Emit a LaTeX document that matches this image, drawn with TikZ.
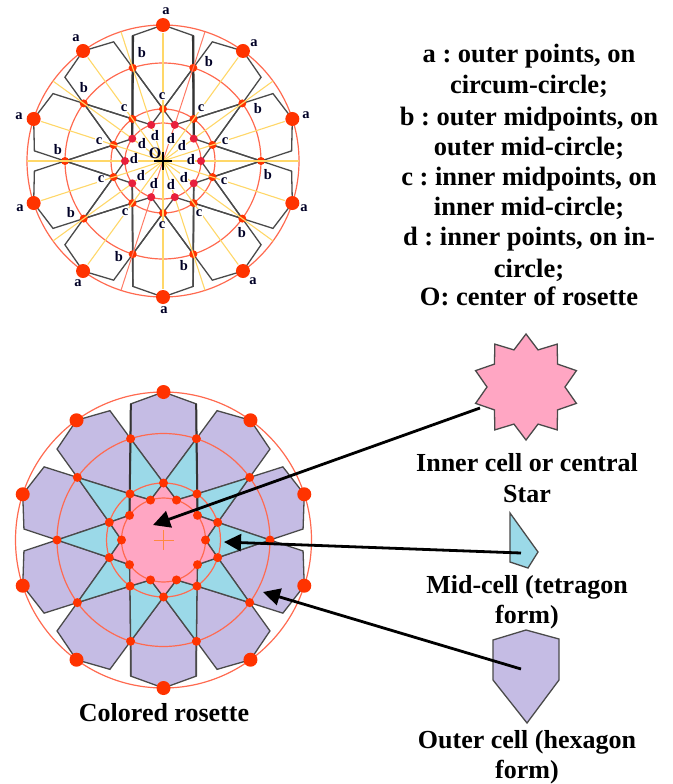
\documentclass[tikz,border=0pt]{standalone}
\usepackage{fontspec}
\setmainfont{Liberation Serif}
\usetikzlibrary{arrows.meta}
\frenchspacing
\definecolor{lav}{HTML}{C5BCE4}
\definecolor{skyc}{HTML}{9BD9E8}
\definecolor{pinkc}{HTML}{FFA6C3}
\definecolor{ringc}{HTML}{FF6A50}
\definecolor{dotc}{HTML}{FF3300}
\definecolor{ddot}{HTML}{E8203C}
\definecolor{yel}{HTML}{FFD768}
\definecolor{edgec}{HTML}{4A4A4A}
\tikzset{
  ring/.style={draw=ringc,line width=1.2pt},
  cellline/.style={draw=edgec,line width=1.3pt,line join=miter},
  ray/.style={draw=yel,line width=1.1pt},
  bigdot/.style={circle,fill=dotc,inner sep=0pt,minimum size=14pt},
  smalldot/.style={circle,fill=dotc,inner sep=0pt,minimum size=8pt},
  reddot/.style={circle,fill=ddot,inner sep=0pt,minimum size=8pt},
  ptlabel/.style={font=\bfseries\fontsize{14.5}{14.5}\selectfont,fill=white,inner sep=0.3pt,text=black!85!blue},
  txt/.style={font=\bfseries\fontsize{26.5}{26.5}\selectfont,anchor=base,inner sep=0pt},
  txtb/.style={font=\bfseries\fontsize{26}{26}\selectfont,anchor=base,inner sep=0pt},
  pointer/.style={draw=black,line width=2.8pt,-{Triangle[length=17pt,width=17pt]}}
}
\newcommand{\hexcell}[6]{% angle, rA, rH, rB, rC, style
  \draw[#6] (#1:#2pt) -- (#1-13.5:#3pt) -- (#1-18:#4pt) -- (#1:#5pt) -- (#1+18:#4pt) -- (#1+13.5:#3pt) -- cycle;}
\begin{document}
\begin{tikzpicture}[x=1pt,y=-1pt]
\useasboundingbox (0,0) rectangle (672,784);
% ---------- top rosette
\begin{scope}[shift={(163,161)}]
  \foreach \r in {136,98,52,38} \draw[ring] (0,0) circle[radius=\r pt];
  \foreach \k in {0,...,9} {
    \pgfmathsetmacro{\a}{18+36*\k}
    \hexcell{\a}{136}{129}{98}{52}{cellline}
    \draw[cellline] (\a+18:98pt) -- (\a+36:52pt) -- (\a+54:38pt);
    \draw[cellline] (\a-18:98pt) -- (\a-36:52pt) -- (\a-54:38pt);
  }
  \foreach \s in {-1,1} {
    \draw[edgec!70!black,line width=2.3pt] (90+\s*13.5:129pt) -- (90+\s*54:38pt);
    \draw[edgec,line width=1.6pt] (270+\s*13.5:129pt) -- (270+\s*54:38pt);
  }
  \foreach \k in {0,...,9} {
    \pgfmathsetmacro{\a}{18+36*\k}
    \pgfmathsetmacro{\b}{36*\k}
    \node[bigdot] (ta\k) at (\a:136pt) {};
    \node[smalldot] (tb\k) at (\b:98pt) {};
    \node[smalldot] (tc\k) at (\a:52pt) {};
  }
  \foreach \k in {0,...,9} {
    \pgfmathsetmacro{\a}{18+36*\k}
    \pgfmathsetmacro{\b}{36*\k}
    \draw[ray] (0,0) -- (\a:128pt);
    \ifnum\k=2 \else\ifnum\k=7 \else \draw[ray] (0,0) -- (\b:136pt);\fi\fi
  }
  \draw[draw=ringc!80!pink,line width=1pt] (72:136pt) -- (252:136pt);
  \foreach \k in {0,...,9} {
    \pgfmathsetmacro{\b}{36*\k}
    \node[reddot] (td\k) at (\b:38pt) {};
  }
\end{scope}
% labels of points
\foreach \n/\x/\y in {1/166/11,2/76/38,3/254/43,4/19/116,5/306/115,6/20/208,7/304/208,8/78/283,9/253/281,10/164/310}
  \node[ptlabel] (la\n) at (\x,\y) {a};
\foreach \n/\x/\y in {1/142/53,2/209/62,3/84/88,4/258/109,5/58/150,6/268/175,7/71/213,8/242/233,9/119/257,10/184/266}
  \node[ptlabel] (lb\n) at (\x,\y) {b};
\foreach \n/\x/\y in {1/162/96,2/124/108,3/201/108,4/99/141,5/225/141,6/101/179,7/224/181,8/125/212,9/199/213,10/162/225}
  \node[ptlabel] (lc\n) at (\x,\y) {c};
\foreach \n/\x/\y in {1/155/136,2/171/139,3/142/144,4/182/146,5/134/159,6/191/160,7/141/176,8/184/178,9/154/184,10/171/185}
  \node[ptlabel] (ld\n) at (\x,\y) {d};
\node[ptlabel,fill=none,font=\bfseries\fontsize{16}{16}\selectfont] (lo) at (155,153) {O};
\draw[black,line width=2.4pt] (154,161) -- (172,161) (163,152) -- (163,170);
% ---------- legend
\node[txt] (t1) at (529,63) {a : outer points, on};
\node[txt] (t2) at (529,93) {circum-circle;};
\node[txt] (t3) at (529,125) {b : outer midpoints, on};
\node[txt] (t4) at (529,155) {outer mid-circle;};
\node[txt] (t5) at (529,185) {c : inner midpoints, on};
\node[txt] (t6) at (529,215) {inner mid-circle;};
\node[txt] (t7) at (529,245) {d : inner points, on in-};
\node[txt] (t8) at (529,277) {circle;};
\node[txt] (t9) at (529,305) {O: center of rosette};
% ---------- coloured rosette
\begin{scope}[shift={(163.5,540)}]
  \foreach \k in {0,...,9} {
    \pgfmathsetmacro{\a}{18+36*\k}
    \hexcell{\a}{148}{140}{106.5}{57}{cellline,fill=lav}
  }
  \foreach \k in {0,...,9} {
    \pgfmathsetmacro{\b}{36*\k}
    \draw[cellline,fill=skyc] (\b:106.5pt) -- (\b+18:57pt) -- (\b:42pt) -- (\b-18:57pt) -- cycle;
  }
  \draw[cellline,fill=pinkc]
    (18:57pt) -- (36:42pt) -- (54:57pt) -- (72:42pt) -- (90:57pt) -- (108:42pt) -- (126:57pt) -- (144:42pt) -- (162:57pt) -- (180:42pt) -- (198:57pt) -- (216:42pt) -- (234:57pt) -- (252:42pt) -- (270:57pt) -- (288:42pt) -- (306:57pt) -- (324:42pt) -- (342:57pt) -- (0:42pt) -- cycle;
  \foreach \s in {-1,1} {
    \draw[edgec!70!black,line width=2pt] (90+\s*13.5:140pt) -- (90+\s*54:42pt);
    \draw[edgec,line width=1.7pt] (270+\s*13.5:140pt) -- (270+\s*18:106.5pt);
  }
  \fill[pinkc] (0,0) circle[radius=41.5pt];
  \foreach \r in {148,106.5,57,42} \draw[ring] (0,0) circle[radius=\r pt];
  \foreach \k in {0,...,9} {
    \pgfmathsetmacro{\a}{18+36*\k}
    \pgfmathsetmacro{\b}{36*\k}
    \node[bigdot] (ca\k) at (\a:148pt) {};
    \node[smalldot,minimum size=9pt] (cb\k) at (\b:106.5pt) {};
    \node[smalldot,minimum size=9pt] (cc\k) at (\a:57pt) {};
    \node[smalldot,minimum size=9pt] (cd\k) at (\b:42pt) {};
  }
  \draw[draw=ringc!80!yellow,line width=0.8pt] (-10,0) -- (10,0) (0,-10) -- (0,10);
\end{scope}
\node[txtb] (tc) at (164,721) {Colored rosette};
% ---------- separate cells
\begin{scope}[shift={(526,387)}]
  \draw[cellline,fill=pinkc]
    (18:53pt) -- (36:39pt) -- (54:53pt) -- (72:39pt) -- (90:53pt) -- (108:39pt) -- (126:53pt) -- (144:39pt) -- (162:53pt) -- (180:39pt) -- (198:53pt) -- (216:39pt) -- (234:53pt) -- (252:39pt) -- (270:53pt) -- (288:39pt) -- (306:53pt) -- (324:39pt) -- (342:53pt) -- (0:39pt) -- cycle;
\end{scope}
\draw[cellline,fill=skyc] (510,513) -- (538,552) -- (528,568) -- (510,562) -- cycle;
\draw[cellline,fill=lav] (526,630) -- (559,639) -- (559,680) -- (527,723) -- (493,680) -- (493,640) -- cycle;
\node[txtb] (u1) at (527,471) {Inner cell or central};
\node[txtb] (u2) at (527,502) {Star};
\node[txtb] (u3) at (527,593) {Mid-cell (tetragon};
\node[txtb] (u4) at (527,623) {form)};
\node[txtb] (u5) at (527,748) {Outer cell (hexagon};
\node[txtb] (u6) at (527,778) {form)};
% ---------- arrows
\coordinate (s1) at (480,408); \coordinate (e1) at (153,525);
\coordinate (s2) at (521,553); \coordinate (e2) at (224,542);
\coordinate (s3) at (521,669); \coordinate (e3) at (263,592);
\draw[pointer] (s1) -- (e1);
\draw[pointer] (s2) -- (e2);
\draw[pointer] (s3) -- (e3);
\end{tikzpicture}
\end{document}
